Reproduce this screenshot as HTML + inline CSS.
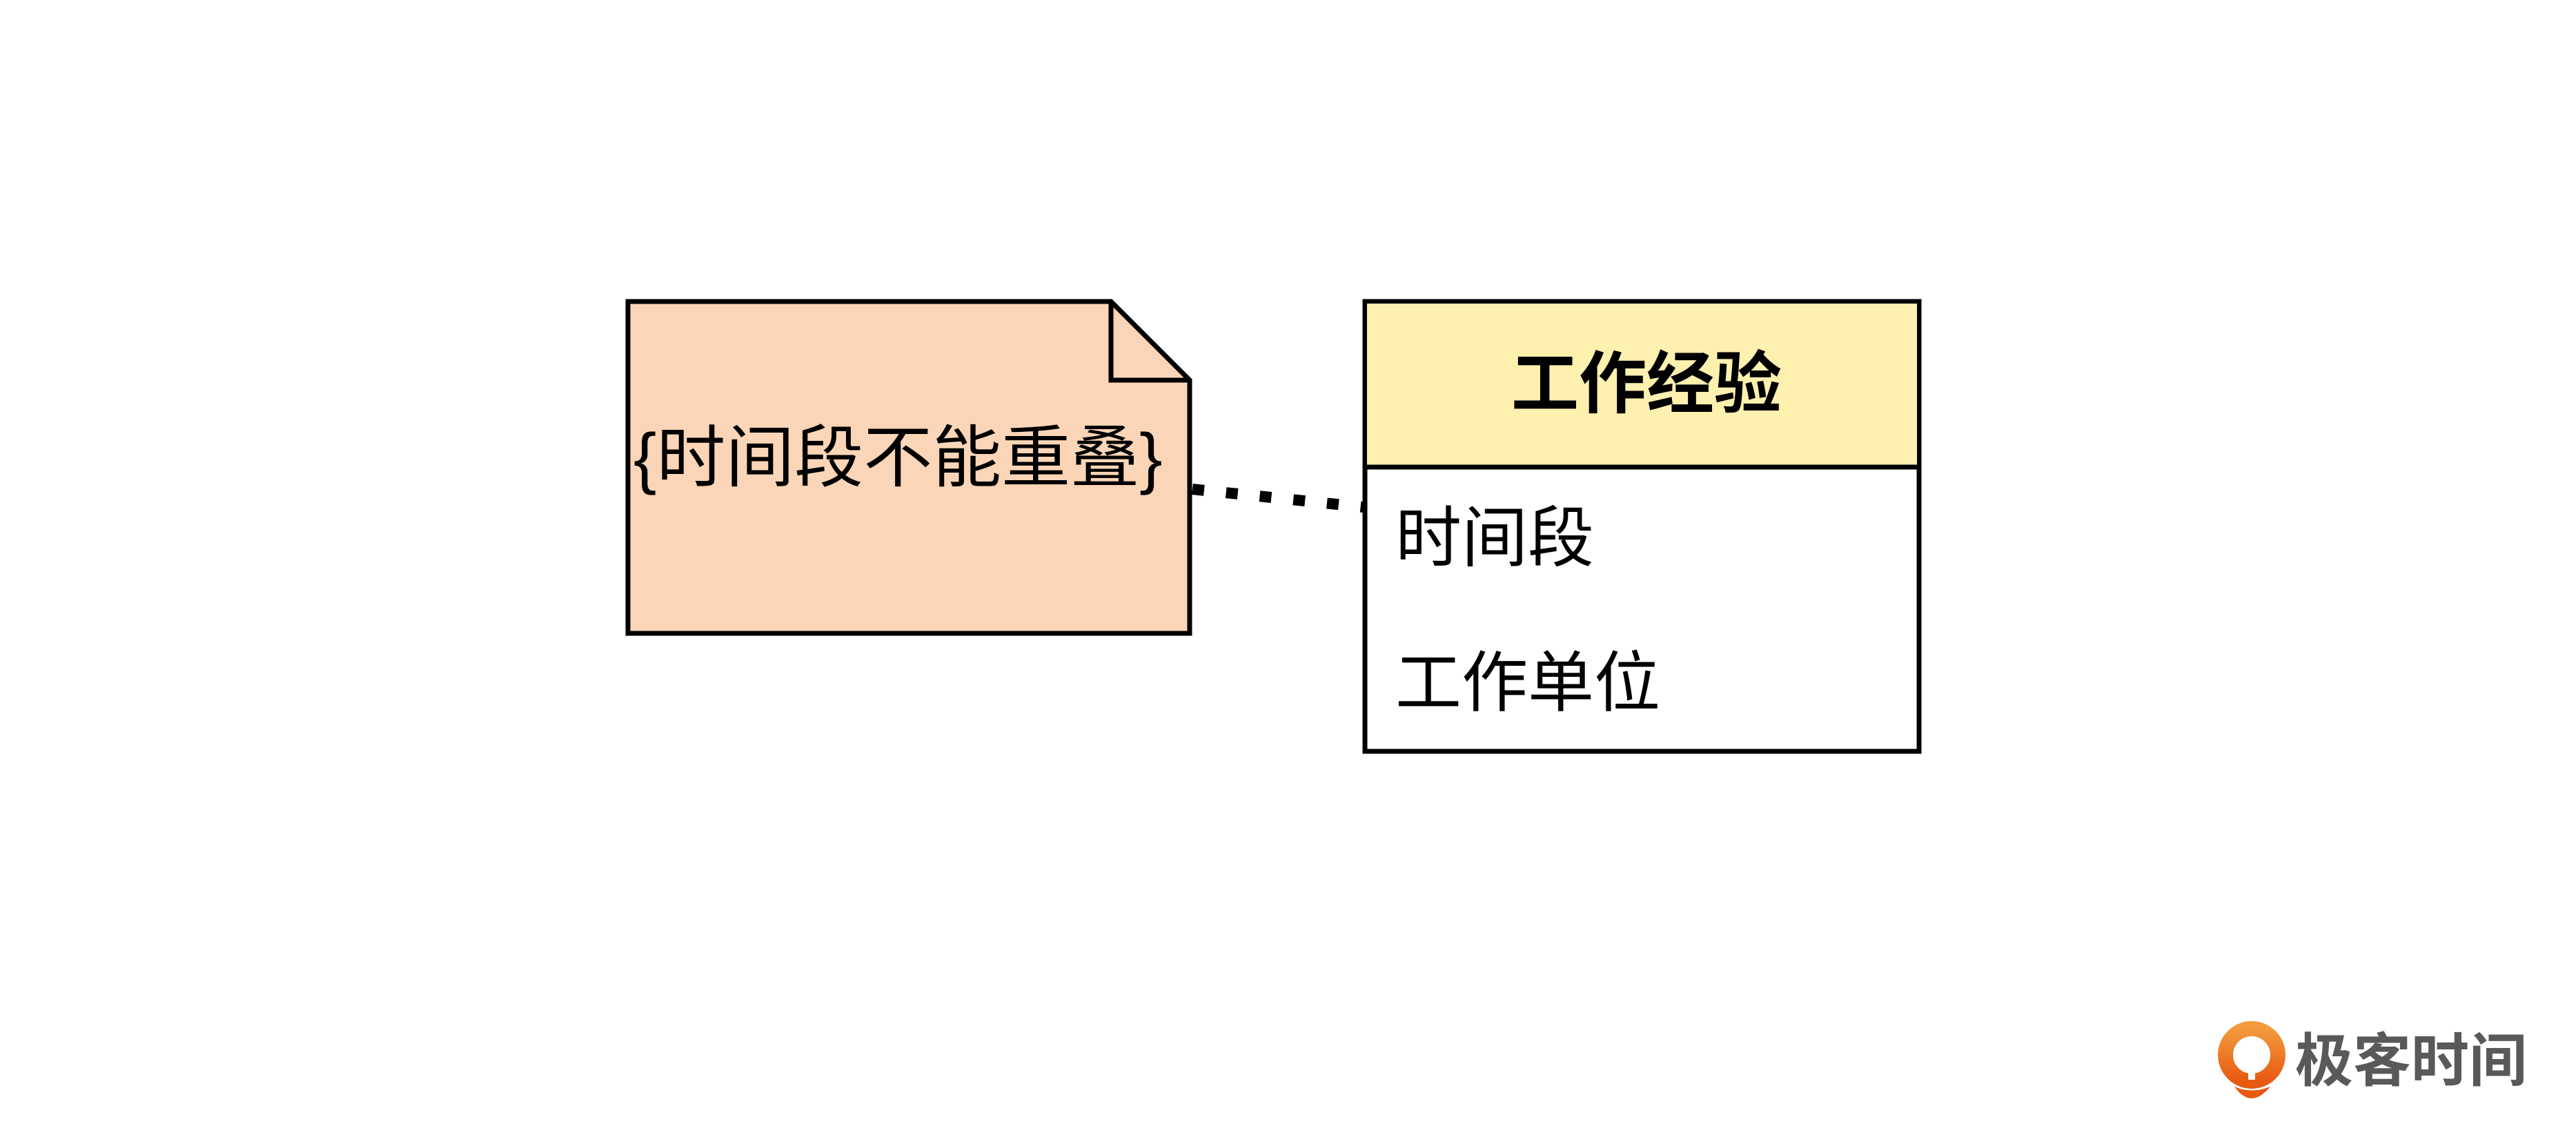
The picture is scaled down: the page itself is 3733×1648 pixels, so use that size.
<!DOCTYPE html>
<html><head><meta charset="utf-8"><style>
html,body{margin:0;padding:0;background:#fff;}
body{width:3733px;height:1648px;position:relative;overflow:hidden;font-family:"Liberation Sans","Noto Sans CJK SC",sans-serif;}
.t{position:absolute;white-space:nowrap;color:#000;line-height:1;}
</style></head><body>
<svg width="3733" height="1648" style="position:absolute;left:0;top:0">
  <path d="M910,437 L1610,437 L1724,551 L1724,918 L910,918 Z" fill="#fad5b7" stroke="#000" stroke-width="7"/>
  <path d="M1610,437 L1610,551 L1724,551" fill="none" stroke="#000" stroke-width="7"/>
  <line x1="1728" y1="709" x2="1976" y2="735" stroke="#000" stroke-width="16" stroke-dasharray="17,32"/>
  <rect x="1978" y="437" width="803" height="652" fill="#fff" stroke="#000" stroke-width="7"/>
  <rect x="1981" y="440" width="797" height="236" fill="#fef0af"/>
  <line x1="1978" y1="677" x2="2781" y2="677" stroke="#000" stroke-width="7"/>
  <defs><linearGradient id="g" x1="0" y1="0" x2="0" y2="1"><stop offset="0" stop-color="#f39a3c"/><stop offset="1" stop-color="#e85a12"/></linearGradient></defs>
  <circle cx="3263" cy="1529" r="38" fill="none" stroke="url(#g)" stroke-width="22"/>
  <path d="M3238,1575 Q3263,1586 3290,1575 Q3276,1592 3263,1592 Q3250,1592 3238,1575Z" fill="#e85a12"/>
  <rect x="3258" y="1530" width="10" height="35" fill="#fff"/>
</svg>
<div class="t" style="left:918px;top:614px;font-size:98px;transform:scaleX(1.02);transform-origin:left;">{时间段不能重叠}</div>
<div class="t" style="left:2190px;top:507px;font-size:98px;font-weight:bold;">工作经验</div>
<div class="t" style="left:2022px;top:733px;font-size:96px;">时间段</div>
<div class="t" style="left:2022px;top:943px;font-size:96px;">工作单位</div>
<div class="t" style="left:3326px;top:1496px;font-size:84px;font-weight:bold;color:#58595b;">极客时间</div>
</body></html>
